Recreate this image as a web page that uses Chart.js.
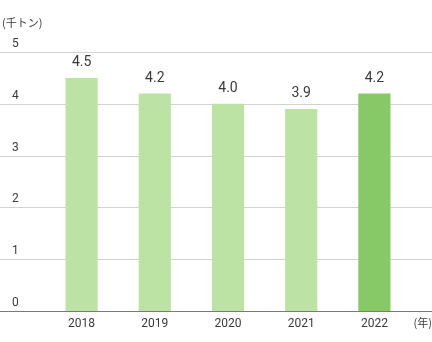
<!DOCTYPE html>
<html lang="ja">
<head>
<meta charset="utf-8">
<script src="https://cdn.jsdelivr.net/npm/chart.js@4/dist/chart.umd.min.js"></script>
<style>
  html, body { margin: 0; padding: 0; background: #fff; }
  #wrap { width: 432px; height: 342px; position: relative; }
</style>
</head>
<body>
<div id="wrap"><canvas id="chart"></canvas></div>
<script>
// Yearly volume, thousand tonnes
const years = ['2018', '2019', '2020', '2021', '2022'];
const volumes = [4.5, 4.2, 4.0, 3.9, 4.2];
const yTicks = [0, 1, 2, 3, 4, 5];
const unitLabel = '(千トン)';
const yearLabel = '(年)';

const FONT = 'Roboto, "Noto Sans CJK JP", sans-serif';
const TEXT = '#3a3a3a';
const barColors = years.map((y, i) => i === years.length - 1 ? '#87c967' : '#bce3a4');

// Full-width grid lines, baseline, value labels and unit captions
const decorations = {
  id: 'decorations',
  beforeDatasetsDraw(chart) {
    const { ctx, width } = chart;
    const y = chart.scales.y;
    ctx.save();
    yTicks.forEach(v => {
      if (v === 0) return;
      const py = Math.round(y.getPixelForValue(v)) + 0.5;
      ctx.strokeStyle = '#d2d2d2';
      ctx.lineWidth = 1;
      ctx.beginPath();
      ctx.moveTo(0, py);
      ctx.lineTo(width, py);
      ctx.stroke();
    });
    ctx.restore();
  },
  afterDatasetsDraw(chart) {
    const { ctx, width } = chart;
    const y = chart.scales.y;
    ctx.save();
    const py0 = Math.round(y.getPixelForValue(0)) + 0.5;
    ctx.strokeStyle = '#7a7a7a';
    ctx.lineWidth = 1;
    ctx.beginPath();
    ctx.moveTo(0, py0);
    ctx.lineTo(width, py0);
    ctx.stroke();

    const meta = chart.getDatasetMeta(0);
    ctx.fillStyle = TEXT;
    ctx.font = '14px ' + FONT;
    ctx.textAlign = 'center';
    ctx.textBaseline = 'middle';
    meta.data.forEach((bar, i) => {
      ctx.fillText(volumes[i].toFixed(1), bar.x, bar.y - 15);
    });

    ctx.font = '11px "Noto Sans CJK JP", sans-serif';
    ctx.textAlign = 'left';
    ctx.fillText(unitLabel, 2, 23);
    ctx.textAlign = 'right';
    ctx.fillText(yearLabel, 432, 323);
    ctx.restore();
  }
};

new Chart(document.getElementById('chart'), {
  type: 'bar',
  data: {
    labels: years,
    datasets: [{
      data: volumes,
      backgroundColor: barColors,
      borderWidth: 0,
      barPercentage: 0.44,
      categoryPercentage: 1.0
    }]
  },
  options: {
    responsive: true,
    maintainAspectRatio: false,
    animation: false,
    devicePixelRatio: 1,
    layout: { padding: { left: 45, right: 21, top: 52, bottom: 0 } },
    plugins: {
      legend: { display: false },
      tooltip: { enabled: false },
      title: { display: false }
    },
    scales: {
      x: {
        grid: { display: false, drawTicks: false },
        border: { display: false },
        ticks: {
          color: TEXT,
          font: { family: FONT, size: 12 },
          padding: 6,
          maxRotation: 0
        },
        afterFit(scale) { scale.height = 31; }
      },
      y: {
        min: 0,
        max: 5,
        grid: { display: false, drawTicks: false },
        border: { display: false },
        afterBuildTicks(scale) { scale.ticks = yTicks.map(v => ({ value: v })); },
        ticks: {
          mirror: true,
          padding: -33,
          labelOffset: -8,
          color: TEXT,
          font: { family: FONT, size: 12 },
          callback: v => String(v)
        },
        afterFit(scale) { scale.width = 0; }
      }
    }
  },
  plugins: [decorations]
});
</script>
</body>
</html>
